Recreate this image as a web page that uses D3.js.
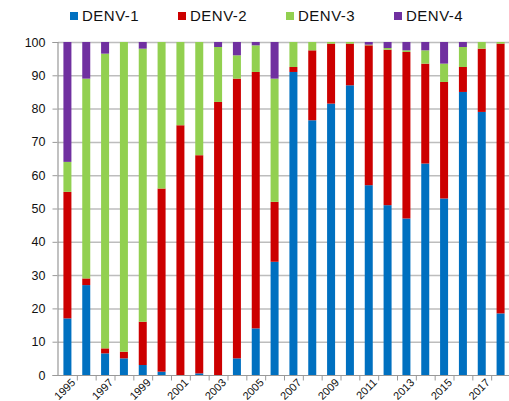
<!DOCTYPE html>
<html>
<head>
<meta charset="utf-8">
<script src="https://cdn.jsdelivr.net/npm/d3@7"></script>
<style>
  body { margin: 0; background: #fff; }
  text { font-family: "Liberation Sans", Arial, sans-serif; fill: #111; }
</style>
</head>
<body>
<svg width="509" height="401"></svg>
<script>
var svg = d3.select("svg"),
  width = +svg.attr("width"),
  height = +svg.attr("height");

var years = ["1995", "1996", "1997", "1998", "1999", "2000", "2001", "2002", "2003", "2004", "2005", "2006",
  "2007", "2008", "2009", "2010", "2011", "2012", "2013", "2014", "2015", "2016", "2017", "2018"];
var serotypes = ["DENV-1", "DENV-2", "DENV-3", "DENV-4"];
var colors = ["#0070C0", "#CC0000", "#92D050", "#7030A0"];

// percent of cases per serotype
var denv1 = [17, 27, 6.5, 5, 3, 1, 0, 0.5, 0, 5, 14, 34, 91, 76.5, 81.5, 87, 57, 51, 47, 63.5, 53, 85, 79, 18.5];
var denv2 = [38, 2, 1.5, 2, 13, 55, 75, 65.5, 82, 84, 77, 18, 1.5, 21, 18, 12.5, 42, 46.7, 50, 30, 35, 7.5, 19, 81];
var denv3 = [9, 60, 88.5, 93, 82, 44, 25, 34, 16.5, 7, 8, 37, 7.5, 2.5, 0.5, 0.5, 0.2, 0.5, 0.5, 4, 5.5, 6, 2, 0.5];
var denv4 = [36, 11, 3.5, 0, 2, 0, 0, 0, 1.5, 4, 1, 11, 0, 0, 0, 0, 0.8, 1.8, 2.5, 2.5, 6.5, 1.5, 0, 0];

var yTicks = [0, 10, 20, 30, 40, 50, 60, 70, 80, 90, 100];

var table = years.map(function(y, i) {
  return { year: y, "DENV-1": denv1[i], "DENV-2": denv2[i], "DENV-3": denv3[i], "DENV-4": denv4[i] };
});

var band = d3.scaleBand().domain(years).range([58, 510]);
var y = d3.scaleLinear().domain([0, 100]).range([375, 42]);

var stack = d3.stack().keys(serotypes)(table);
var color = d3.scaleOrdinal().domain(serotypes).range(colors);

// gridlines
svg.append("g")
  .selectAll("line")
  .data(yTicks.slice(1))
  .enter().append("line")
  .attr("x1", 58).attr("x2", 510)
  .attr("y1", function(d) { return y(d) + 0.5; })
  .attr("y2", function(d) { return y(d) + 0.5; })
  .attr("stroke", "#bdbdbd").attr("stroke-width", 1.5);

// bars
svg.append("g")
  .selectAll("g")
  .data(stack)
  .enter().append("g")
  .attr("fill", function(d) { return color(d.key); })
  .selectAll("rect")
  .data(function(d) { return d; })
  .enter().append("rect")
  .attr("x", function(d) { return band(d.data.year) + band.bandwidth() / 2 - 4; })
  .attr("width", 8)
  .attr("y", function(d) { return y(d[1]); })
  .attr("height", function(d) { return Math.max(0, y(d[0]) - y(d[1])); });

// y axis
var yAxis = svg.append("g")
  .attr("transform", "translate(57.5,0)")
  .call(d3.axisLeft(y).tickValues(yTicks).tickSize(5).tickPadding(7));
yAxis.select(".domain").attr("stroke", "#999").attr("stroke-width", 1.2);
yAxis.selectAll(".tick line").attr("stroke", "#999");
yAxis.selectAll("text").style("font-size", "12.5px");

// x axis
var xAxis = svg.append("g")
  .attr("transform", "translate(0,375.5)");
xAxis.append("line")
  .attr("x1", 57).attr("x2", 510)
  .attr("stroke", "#999").attr("stroke-width", 1.2);
xAxis.selectAll(".tk")
  .data(years.slice(1))
  .enter().append("line")
  .attr("class", "tk")
  .attr("x1", function(d) { return band(d) + 0.5; })
  .attr("x2", function(d) { return band(d) + 0.5; })
  .attr("y1", 0).attr("y2", 5)
  .attr("stroke", "#999");
xAxis.selectAll("text")
  .data(years.filter(function(d, i) { return i % 2 === 0; }))
  .enter().append("text")
  .attr("transform", function(d) {
    return "translate(" + (band(d) + band.bandwidth() / 2 + 6) + ",5) rotate(-45)";
  })
  .attr("text-anchor", "end")
  .attr("dy", "0.35em")
  .style("font-size", "11px")
  .text(function(d) { return d; });

// legend
var legend = svg.append("g")
  .selectAll("g")
  .data(serotypes)
  .enter().append("g")
  .attr("transform", function(d, i) { return "translate(" + (70 + i * 108) + ",12)"; });
legend.append("rect")
  .attr("width", 8).attr("height", 8)
  .attr("fill", function(d) { return color(d); });
legend.append("text")
  .attr("x", 12).attr("y", 9)
  .style("font-size", "15px")
  .style("letter-spacing", "0.5px")
  .text(function(d) { return d; });
</script>
</body>
</html>
